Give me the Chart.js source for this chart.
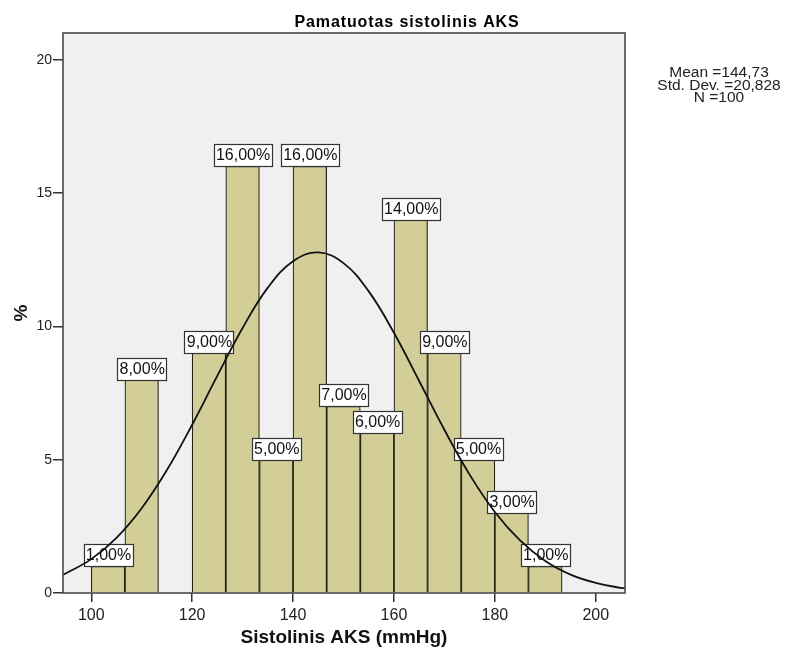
<!DOCTYPE html>
<html>
<head>
<meta charset="utf-8">
<script src="https://cdn.jsdelivr.net/npm/chart.js@4/dist/chart.umd.min.js"></script>
<style>
html,body{margin:0;padding:0;background:#ffffff;}
#wrap{width:786px;height:660px;position:relative;}
</style>
</head>
<body>
<div id="wrap"><canvas id="c" width="786" height="660"></canvas></div>
<script>
// ---- data ----
const chartTitle = "Pamatuotas sistolinis AKS";
const xTitle = "Sistolinis AKS (mmHg)";
const yTitle = "%";
const statsLines = ["Mean =144,73", "Std. Dev. =20,828", "N =100"];

// histogram bins (centres, mmHg) and percentages
const binCenters = [103.33, 110, 116.67, 123.33, 130, 136.67, 143.33, 150, 156.67, 163.33, 170, 176.67, 183.33, 190];
const binPercents = [1, 8, 0, 9, 16, 5, 16, 7, 6, 14, 9, 5, 3, 1];

// fitted normal curve
const curveX = [94.4, 95, 100, 105, 110, 115, 120, 125, 130, 135, 140, 145, 150, 155, 160, 165, 170, 175, 180, 185, 190, 195, 200, 205, 205.8];
const curveY = [0.69, 0.74, 1.27, 2.07, 3.18, 4.61, 6.31, 8.15, 9.94, 11.45, 12.44, 12.77, 12.37, 11.31, 9.76, 7.95, 6.12, 4.44, 3.04, 1.97, 1.20, 0.69, 0.38, 0.19, 0.18];

const xTicks = [100, 120, 140, 160, 180, 200];
const yTicks = [0, 5, 10, 15, 20];

// ---- plugins ----
const decor = {
  id: 'decor',
  beforeDraw(chart) {
    const {ctx, chartArea: a} = chart;
    ctx.save();
    ctx.fillStyle = '#f0f0f0';
    ctx.fillRect(a.left, a.top, a.right - a.left, a.bottom - a.top);
    ctx.restore();
  },
  afterDatasetDraw(chart, args) {
    if (args.index !== 1) return;
    const {ctx} = chart;
    const meta = chart.getDatasetMeta(1);
    ctx.save();
    ctx.font = '16px "Liberation Sans", Arial, sans-serif';
    ctx.textAlign = 'center';
    ctx.textBaseline = 'middle';
    meta.data.forEach((bar, i) => {
      const v = binPercents[i];
      if (!v) return;
      const txt = v.toFixed(2).replace('.', ',') + '%';
      const w = Math.round(ctx.measureText(txt).width + 4);
      const h = 22;
      const x = Math.round(bar.x - w / 2);
      const y = Math.round(bar.y - h);
      ctx.fillStyle = '#ffffff';
      ctx.fillRect(x, y, w, h);
      ctx.strokeStyle = '#333333';
      ctx.lineWidth = 1.2;
      ctx.strokeRect(x + 0.5, y + 0.5, w, h);
      ctx.fillStyle = '#111111';
      ctx.fillText(txt, bar.x + 0.5, y + h / 2 + 1);
    });
    ctx.restore();
  },
  afterDraw(chart) {
    const {ctx, chartArea: a} = chart;
    ctx.save();
    ctx.strokeStyle = '#4a4a4a';
    ctx.lineWidth = 1.6;
    ctx.strokeRect(a.left, a.top, a.right - a.left, a.bottom - a.top);
    // title
    ctx.fillStyle = '#000000';
    ctx.textAlign = 'center';
    ctx.textBaseline = 'alphabetic';
    ctx.font = 'bold 16px "Liberation Sans", Arial, sans-serif';
    try { ctx.letterSpacing = '0.9px'; } catch (e) {}
    ctx.fillText(chartTitle, 407, 27);
    try { ctx.letterSpacing = '0px'; } catch (e) {}
    // stats
    ctx.font = '15.5px "Liberation Sans", Arial, sans-serif';
    ctx.fillStyle = '#222222';
    statsLines.forEach((s, i) => ctx.fillText(s, 719, 77 + i * 12.6));
    ctx.restore();
  }
};

new Chart(document.getElementById('c'), {
  type: 'bar',
  data: {
    datasets: [
      {
        type: 'line',
        data: curveX.map((x, i) => ({x, y: curveY[i]})),
        borderColor: '#111111',
        borderWidth: 1.8,
        pointRadius: 0,
        tension: 0.4,
        fill: false
      },
      {
        type: 'bar',
        data: binCenters.map((x, i) => ({x, y: binPercents[i]})),
        backgroundColor: '#d3ce98',
        borderColor: '#22221a',
        borderWidth: 1.2,
        barPercentage: 1,
        categoryPercentage: 1
      }
    ]
  },
  plugins: [decor],
  options: {
    responsive: false,
    animation: false,
    events: [],
    layout: {padding: {top: 33, right: 161, left: 0, bottom: 0}},
    plugins: {legend: {display: false}, tooltip: {enabled: false}, title: {display: false}},
    scales: {
      x: {
        type: 'linear',
        min: 94.4,
        max: 205.8,
        offset: false,
        afterFit(s) { s.height = 67; },
        afterBuildTicks(s) { s.ticks = xTicks.map(v => ({value: v})); },
        ticks: {
          color: '#222222',
          font: {family: '"Liberation Sans", Arial, sans-serif', size: 16},
          padding: 4,
          maxRotation: 0
        },
        grid: {display: true, offset: false, drawOnChartArea: false, drawTicks: true, tickLength: 9, color: '#333333', lineWidth: 1.5},
        border: {display: false},
        title: {
          display: true,
          text: xTitle,
          color: '#111111',
          font: {family: '"Liberation Sans", Arial, sans-serif', size: 19, weight: 'bold'},
          padding: {top: 0, bottom: 11}
        }
      },
      y: {
        min: 0,
        max: 21,
        afterFit(s) { s.width = 63; },
        afterBuildTicks(s) { s.ticks = yTicks.map(v => ({value: v})); },
        ticks: {
          color: '#222222',
          font: {family: '"Liberation Sans", Arial, sans-serif', size: 14},
          padding: 1
        },
        grid: {display: true, drawOnChartArea: false, drawTicks: true, tickLength: 10, color: '#333333', lineWidth: 1.5},
        border: {display: false},
        title: {
          display: true,
          text: yTitle,
          color: '#111111',
          font: {family: '"Liberation Sans", Arial, sans-serif', size: 19, weight: 'bold'},
          padding: {top: 10, bottom: 0}
        }
      }
    }
  }
});
</script>
</body>
</html>
